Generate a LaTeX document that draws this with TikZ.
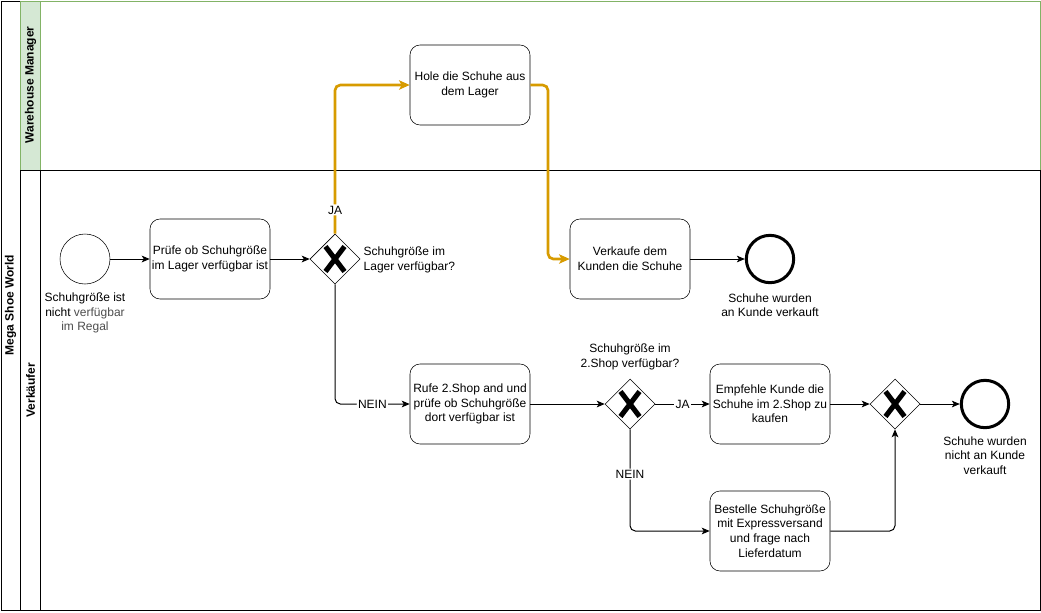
\documentclass[tikz,border=0pt]{standalone}
\usepackage{fontspec}
\setmainfont{Liberation Sans}
\usetikzlibrary{shapes.geometric,arrows.meta}
\definecolor{laneGreen}{HTML}{82B366}
\definecolor{laneFill}{HTML}{D5E8D4}
\definecolor{flowOrange}{HTML}{D79B00}
\definecolor{noteGray}{HTML}{4D4D4D}
\begin{document}
\begin{tikzpicture}[x=0.75pt,y=-0.75pt,
		font=\fontsize{9}{11}\selectfont,
		task/.style={draw,rounded corners=7.5pt,minimum width=90pt,minimum height=60pt,align=center,inner sep=1pt},
		gate/.style={draw,diamond,aspect=1,minimum size=37.5pt,inner sep=0pt},
		startev/.style={draw,circle,minimum size=37.5pt,inner sep=0pt},
		endev/.style={draw,circle,line width=2.25pt,minimum size=35.5pt,inner sep=0pt},
		flow/.style={-{Stealth[length=6pt,width=5pt,inset=1.5pt]},line width=0.75pt},
		hotflow/.style={flow,draw=flowOrange,line width=2pt,rounded corners=4pt,-{Stealth[length=8pt,width=7pt,inset=2pt]}},
		lbl/.style={fill=white,inner sep=1pt},
		xmark/.style={line width=3.8pt}]
		\useasboundingbox (0,0) rectangle (1041,612);
		% pool and lanes
		\draw[line width=0.75pt] (1,1) rectangle (1040,610);
		\draw[line width=0.75pt,draw=laneGreen] (20,1) rectangle (1040,170);
		\draw[line width=0.75pt,draw=laneGreen,fill=laneFill] (20,1) rectangle (40,170);
		\draw[line width=0.75pt] (20,170) rectangle (1040,610);
		\draw[line width=0.75pt] (40,170) -- (40,610);
		\node[rotate=90,font=\fontsize{9}{11}\selectfont\bfseries] (pool) at (10.5,305) {Mega Shoe World};
		\node[rotate=90,font=\fontsize{9}{11}\selectfont\bfseries] (wm) at (30.5,85) {Warehouse Manager};
		\node[rotate=90,font=\fontsize{9}{11}\selectfont\bfseries] (vk) at (30.5,390) {Verkäufer};
		% events, tasks, gateways
		\node[startev] (start) at (85,259) {};
		\node[align=center,below=3pt] (startlbl) at (85,284) {Schuhgröße ist\\nicht \textcolor{noteGray}{verfügbar}\\\textcolor{noteGray}{im Regal}};
		\node[task] (pruefe) at (210,259) {Prüfe ob Schuhgröße\\im Lager verfügbar ist};
		\node[gate] (g1) at (335,259) {};
		\node[align=left,anchor=west] (g1lbl) at (359,260) {Schuhgröße im\\Lager verfügbar?};
		\node[task] (hole) at (470,85) {Hole die Schuhe aus\\dem Lager};
		\node[task] (verkaufe) at (630,259) {Verkaufe dem\\Kunden die Schuhe};
		\node[endev] (end1) at (770,259) {};
		\node[align=center,below=3.5pt] (end1lbl) at (770,284) {Schuhe wurden\\an Kunde verkauft};
		\node[task] (rufe) at (470,404) {Rufe 2.Shop and und\\prüfe ob Schuhgröße\\dort verfügbar ist};
		\node[gate] (g2) at (630,404) {};
		\node[align=center,above=1pt] (g2lbl) at (630,376) {Schuhgröße im\\2.Shop verfügbar?};
		\node[task] (empfehle) at (770,404) {Empfehle Kunde die\\Schuhe im 2.Shop zu\\kaufen};
		\node[task] (bestelle) at (770,531) {Bestelle Schuhgröße\\mit Expressversand\\und frage nach\\Lieferdatum};
		\node[gate] (g3) at (895,404) {};
		\node[endev] (end2) at (985,404) {};
		\node[align=center,below=2pt] (end2lbl) at (985,429) {Schuhe wurden\\nicht an Kunde\\verkauft};
		\foreach \g in {g1,g2,g3} {
			\draw[xmark] ([shift={(-9.5,-12.5)}]\g.center) -- ([shift={(9.5,12.5)}]\g.center);
			\draw[xmark] ([shift={(9.5,-12.5)}]\g.center) -- ([shift={(-9.5,12.5)}]\g.center);
		}
		% flows
		\draw[flow] (start) -- (pruefe);
		\draw[flow] (pruefe) -- (g1);
		\draw[hotflow] (g1.north) |- node[pos=0.08,lbl,text=black] {JA} (hole.west);
		\coordinate (bend) at (548,85);
		\draw[hotflow] (hole.east) -- (bend) |- (verkaufe.west);
		\draw[flow] (verkaufe) -- (end1);
		\draw[flow,rounded corners=4pt] (g1.south) |- node[pos=0.75,lbl] {NEIN} (rufe.west);
		\draw[flow] (rufe) -- (g2);
		\draw[flow] (g2) -- node[lbl] {JA} (empfehle);
		\draw[flow,rounded corners=4pt] (g2.south) |- node[pos=0.22,lbl] {NEIN} (bestelle.west);
		\draw[flow] (empfehle) -- (g3);
		\draw[flow,rounded corners=4pt] (bestelle.east) -| (g3.south);
		\draw[flow] (g3) -- (end2);
	\end{tikzpicture}
\end{document}
